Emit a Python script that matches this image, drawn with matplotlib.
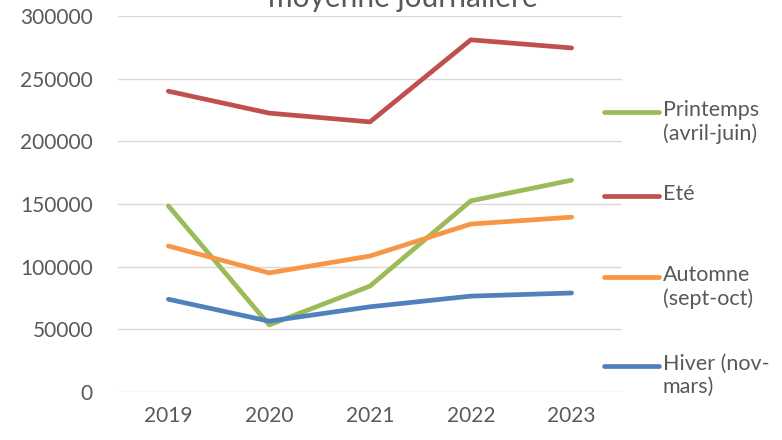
import matplotlib
matplotlib.use("Agg")
from matplotlib import pyplot as plt
from matplotlib.lines import Line2D

years = ["2019", "2020", "2021", "2022", "2023"]
printemps = [148500, 53500, 84500, 152500, 169000]
ete = [240000, 222500, 215500, 281000, 274500]
automne = [116500, 95000, 108500, 134000, 139500]
hiver = [74000, 56500, 68000, 76500, 79000]

series = [
    ("Printemps\n(avril-juin)", printemps, "#9bbb59"),
    ("Eté", ete, "#c0504d"),
    ("Automne\n(sept-oct)", automne, "#f79646"),
    ("Hiver (nov-\nmars)", hiver, "#4f81bd"),
]

plt.rcParams["font.family"] = ["Lato", "DejaVu Sans"]
txt = "#595959"

fig = plt.figure(figsize=(7.82, 4.40), dpi=100)
ax = fig.add_axes([118 / 782, 48 / 440, 504 / 782, 376 / 440])

x = list(range(len(years)))
for label, vals, col in series:
    ax.plot(x, vals, color=col, lw=3.4, solid_capstyle="round", solid_joinstyle="round")

ax.set_xlim(-0.5, 4.5)
ax.set_ylim(0, 300000)
ax.set_yticks(range(0, 300001, 50000))
ax.set_xticks(x)
ax.set_xticklabels(years)
ax.grid(axis="y", color="#d9d9d9", lw=1)
ax.set_axisbelow(True)
for s in ax.spines.values():
    s.set_visible(False)
ax.tick_params(length=0, labelsize=15, labelcolor=txt, pad=10)
ax.tick_params(axis="y", pad=18)

# title, partly cut off at the top like the original
fig.text(0.515, 1 - 7 / 440, "moyenne journalière", ha="center", va="baseline",
         fontsize=21.5, color=txt)

# manual legend on the right
ys = [112, 196, 277, 366]
for (label, vals, col), yp in zip(series, ys):
    yf = 1 - yp / 440
    fig.add_artist(Line2D([604 / 782, 659 / 782], [yf, yf], color=col, lw=3.4,
                          solid_capstyle="round", transform=fig.transFigure))
    fig.text(663 / 782, yf + 12 / 440, label, ha="left", va="top", fontsize=15.5,
             color=txt, linespacing=1.2)

fig.savefig("out.png", dpi=100)
